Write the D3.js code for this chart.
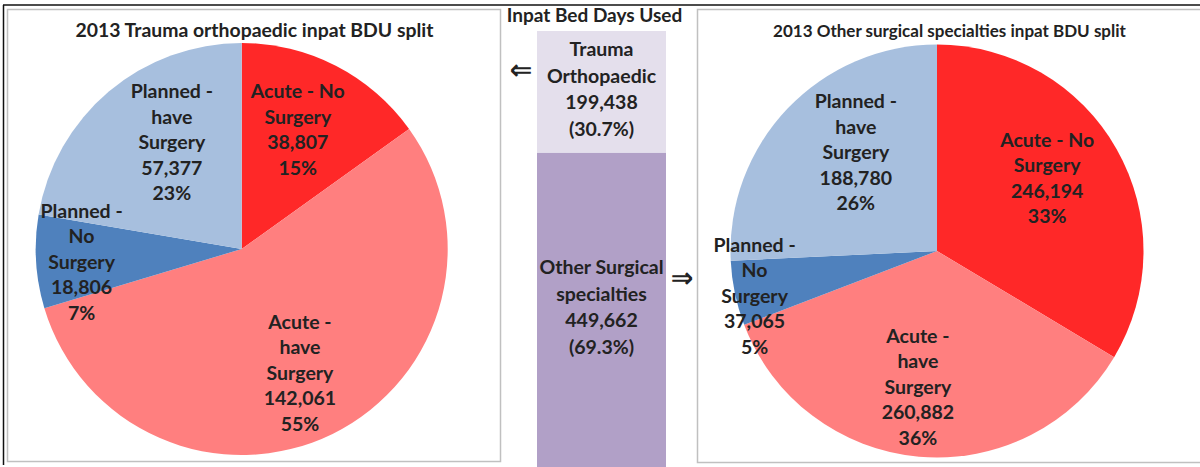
<!DOCTYPE html>
<html>
<head>
<meta charset="utf-8">
<script src="https://cdn.jsdelivr.net/npm/d3@7"></script>
<style>
  html, body { margin: 0; padding: 0; background: #fff; }
  svg { display: block; }
  text { font-family: Lato, "Open Sans", sans-serif; font-weight: bold; fill: #222; }
</style>
</head>
<body>
<svg id="chart" width="1200" height="467"></svg>
<script>
	// slice categories (clockwise from 12 o'clock)
	var categories = ["Acute - No Surgery", "Acute - have Surgery", "Planned - No Surgery", "Planned - have Surgery"];
	var labelLines = [["Acute - No", "Surgery"], ["Acute -", "have", "Surgery"], ["Planned -", "No", "Surgery"], ["Planned -", "have", "Surgery"]];
	var traumaValues = [38807, 142061, 18806, 57377];
	var traumaPct = ["15%", "55%", "7%", "23%"];
	var otherValues = [246194, 260882, 37065, 188780];
	var otherPct = ["33%", "36%", "5%", "26%"];

	// middle stacked bar
	var barGroups = ["Trauma Orthopaedic", "Other Surgical specialties"];
	var barLines = [["Trauma", "Orthopaedic"], ["Other Surgical", "specialties"]];
	var barValues = [199438, 449662];
	var barPct = ["(30.7%)", "(69.3%)"];
	var barAxisMin = -64000;

	var colors = ["#FF2828", "#FF7F7F", "#4F81BD", "#A7BFDE"];
	var barColors = ["#E4DFEC", "#B1A0C7"];
	var fmt = d3.format(",");

	var svg = d3.select("#chart");

	// outer black frame lines
	svg.append("line").attr("x1", 3).attr("x2", 1200).attr("y1", 5).attr("y2", 5)
		.attr("stroke", "#111").attr("stroke-width", 1.5);
	svg.append("line").attr("x1", 3.5).attr("x2", 3.5).attr("y1", 5).attr("y2", 465)
		.attr("stroke", "#111").attr("stroke-width", 1.5);

	// chart boxes
	svg.append("rect").attr("x", 7.5).attr("y", 9.5).attr("width", 493).attr("height", 452)
		.attr("fill", "none").attr("stroke", "#c0c0c0").attr("stroke-width", 1.5);
	svg.append("rect").attr("x", 697.5).attr("y", 9.5).attr("width", 510).attr("height", 453)
		.attr("fill", "none").attr("stroke", "#c0c0c0").attr("stroke-width", 1.5);

	function drawPie(cx, cy, r, values, pct, title, titleX, titleSize, labelPos) {
		var g = svg.append("g").attr("transform", "translate(" + cx + "," + cy + ")");
		var pie = d3.pie().sort(null);
		var arc = d3.arc().innerRadius(0).outerRadius(r);
		var arcs = pie(values);

		g.selectAll("path").data(arcs).enter().append("path")
			.attr("d", arc)
			.attr("fill", function (d, i) { return colors[i]; });

		// labels: radius factor + angle nudge per slice
		arcs.forEach(function (d, i) {
			var a = (d.startAngle + d.endAngle) / 2 + labelPos[i][1] * Math.PI / 180;
			var rr = r * labelPos[i][0];
			var x = Math.sin(a) * rr, y = -Math.cos(a) * rr;
			var lines = labelLines[i].concat([fmt(values[i]), pct[i]]);
			var lh = 25.5;
			var t = g.append("text").attr("text-anchor", "middle").style("font-size", "19.5px");
			lines.forEach(function (s, k) {
				t.append("tspan").attr("x", x)
					.attr("y", y + (k - (lines.length - 1) / 2) * lh + 7)
					.text(s);
			});
		});

		svg.append("text").attr("x", titleX).attr("y", 37).attr("text-anchor", "middle")
			.style("font-size", titleSize + "px").text(title);
	}

	drawPie(241.7, 249, 206, traumaValues, traumaPct, "2013 Trauma orthopaedic inpat BDU split", 254.5, 19.4,
		[[0.64, -2], [0.665, 1], [0.78, -1], [0.62, 7]]);
	drawPie(937, 251, 206.5, otherValues, otherPct, "2013 Other surgical  specialties inpat BDU split", 949.5, 17,
		[[0.64, -4], [0.665, 3], [0.91, -2], [0.62, 7]]);

	// middle stacked bar
	var x = d3.scaleBand().domain(["Inpat"]).range([537, 666]).padding(0);
	var y = d3.scaleLinear().domain([barAxisMin, d3.sum(barValues)]).range([467, 31]);
	var stacked = [];
	var acc = d3.sum(barValues);
	barValues.forEach(function (v, i) {
		stacked.push({ i: i, y0: acc - v, y1: acc });
		acc -= v;
	});
	stacked[stacked.length - 1].y0 = barAxisMin;

	var bars = svg.append("g");
	bars.selectAll("rect").data(stacked).enter().append("rect")
		.attr("x", x("Inpat"))
		.attr("width", x.bandwidth())
		.attr("y", function (d) { return y(d.y1); })
		.attr("height", function (d) { return y(d.y0) - y(d.y1); })
		.attr("fill", function (d) { return barColors[d.i]; });

	stacked.forEach(function (d) {
		var mid = (y(d.y0) + y(d.y1)) / 2 - 3;
		var lines = barLines[d.i].concat([fmt(barValues[d.i]), barPct[d.i]]);
		var lh = 26.5;
		var t = bars.append("text").attr("text-anchor", "middle").style("font-size", "19.5px");
		lines.forEach(function (s, k) {
			t.append("tspan").attr("x", x("Inpat") + x.bandwidth() / 2)
				.attr("y", mid + (k - (lines.length - 1) / 2) * lh + 7)
				.text(s);
		});
	});

	svg.append("text").attr("x", 594.5).attr("y", 22).attr("text-anchor", "middle")
		.style("font-size", "19px").text("Inpat Bed Days Used");

	// arrows pointing to the pies
	svg.append("text").attr("x", 521).attr("y", 79).attr("text-anchor", "middle")
		.style("font-family", "DejaVu Sans").style("font-size", "27px").text("\u21D0");
	svg.append("text").attr("x", 682).attr("y", 287).attr("text-anchor", "middle")
		.style("font-family", "DejaVu Sans").style("font-size", "27px").text("\u21D2");
</script>
</body>
</html>
